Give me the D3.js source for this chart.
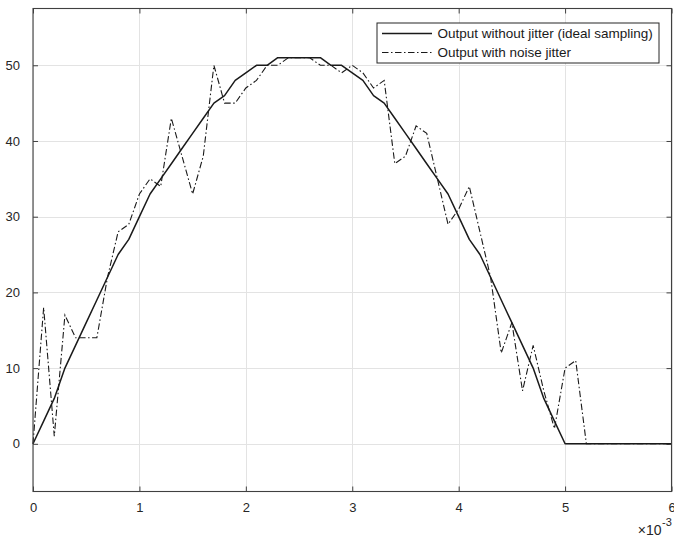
<!DOCTYPE html>
<html>
<head>
<meta charset="utf-8">
<script src="https://cdn.jsdelivr.net/npm/d3@7"></script>
<style>
  html, body { margin: 0; padding: 0; background: #fff; }
  svg { display: block; font-family: "Liberation Sans", Arial, Helvetica, sans-serif; }
</style>
</head>
<body>
<svg id="chart" width="674" height="537"></svg>
<script>
// time samples in units of 1e-3 s
const timeMs = [0,0.1,0.2,0.3,0.4,0.5,0.6,0.7,0.8,0.9,1.0,1.1,1.2,1.3,1.4,1.5,1.6,1.7,1.8,1.9,2.0,
  2.1,2.2,2.3,2.4,2.5,2.6,2.7,2.8,2.9,3.0,3.1,3.2,3.3,3.4,3.5,3.6,3.7,3.8,3.9,4.0,
  4.1,4.2,4.3,4.4,4.5,4.6,4.7,4.8,4.9,5.0,5.1,5.2,5.3,5.4,5.5,5.6,5.7,5.8,5.9,6.0];
const idealOutput = [0,3,6,10,13,16,19,22,25,27,30,33,35,37,39,41,43,45,46,48,49,
  50,50,51,51,51,51,51,50,50,49,48,46,45,43,41,39,37,35,33,30,
  27,25,22,19,16,13,10,6,3,0,0,0,0,0,0,0,0,0,0,0];
const jitterOutput = [0,18,1,17,14,14,14,22,28,29,33,35,34,43,38,33,38,50,45,45,47,
  48,50,50,51,51,51,50,50,49,50,49,47,48,37,38,42,41,35,29,31,
  34,28,22,12,16,7,13,7,2,10,11,0,0,0,0,0,0,0,0,0];
const xTicks = [0,1,2,3,4,5,6];
const yTicks = [0,10,20,30,40,50];
const legendLabels = ["Output without jitter (ideal sampling)", "Output with noise jitter"];

(function () {
const svg = d3.select("#chart");
const pLeft = 33, pRight = 671.5, pTop = 8.5, pBottom = 491.5;
const x = d3.scaleLinear().domain([0, 6]).range([pLeft, pRight]);
const y = d3.scaleLinear().domain([-6.3, 57.5]).range([pBottom, pTop]);

// grid
const grid = svg.append("g").attr("stroke", "#e3e3e3").attr("stroke-width", 1);
xTicks.forEach(t => grid.append("line")
  .attr("x1", Math.round(x(t)) + 0.5).attr("x2", Math.round(x(t)) + 0.5)
  .attr("y1", pTop).attr("y2", pBottom));
yTicks.forEach(t => grid.append("line")
  .attr("y1", Math.round(y(t)) + 0.5).attr("y2", Math.round(y(t)) + 0.5)
  .attr("x1", pLeft).attr("x2", pRight));

// axes (ticks inward, box on)
const axisColor = "#404040";
const xAxisB = d3.axisBottom(x).tickValues(xTicks).tickSizeInner(-5).tickSizeOuter(0).tickPadding(11).tickFormat(d3.format("d"));
const xAxisT = d3.axisTop(x).tickValues(xTicks).tickSizeInner(-5).tickSizeOuter(0).tickFormat("");
const yAxisL = d3.axisLeft(y).tickValues(yTicks).tickSizeInner(-5).tickSizeOuter(0).tickPadding(13).tickFormat(d3.format("d"));
const yAxisR = d3.axisRight(y).tickValues(yTicks).tickSizeInner(-5).tickSizeOuter(0).tickFormat("");

function styleAxis(g) {
  g.select(".domain").remove();
  g.selectAll(".tick line").attr("stroke", axisColor);
  g.selectAll(".tick text").attr("fill", "#262626").attr("font-size", "13px")
    .attr("font-family", "'Liberation Sans', Arial, sans-serif");
}
svg.append("g").attr("transform", `translate(0,${pBottom})`).call(xAxisB).call(styleAxis);
svg.append("g").attr("transform", `translate(0,${pTop})`).call(xAxisT).call(styleAxis);
svg.append("g").attr("transform", `translate(${pLeft},0)`).call(yAxisL).call(styleAxis);
svg.append("g").attr("transform", `translate(${pRight},0)`).call(yAxisR).call(styleAxis);

// data lines
const line = d3.line().x((d, i) => x(timeMs[i])).y(d => y(d));
svg.append("path").datum(idealOutput).attr("d", line)
  .attr("fill", "none").attr("stroke", "#1a1a1a").attr("stroke-width", 1.5).attr("stroke-linejoin", "round");
svg.append("path").datum(jitterOutput).attr("d", line)
  .attr("fill", "none").attr("stroke", "#1a1a1a").attr("stroke-width", 1.1)
  .attr("stroke-dasharray", "6.5,2.5,1.5,2.5");

// box
svg.append("rect").attr("x", pLeft).attr("y", pTop).attr("width", pRight - pLeft).attr("height", pBottom - pTop)
  .attr("fill", "none").attr("stroke", axisColor).attr("stroke-width", 1.1);

// exponent label
svg.append("text").attr("x", 661.5).attr("y", 535).attr("text-anchor", "end")
  .attr("font-size", "14px").attr("fill", "#262626").text("\u00d710");
svg.append("text").attr("x", 662).attr("y", 526).attr("font-size", "11px").attr("fill", "#262626").text("-3");

// legend
const lg = svg.append("g");
lg.append("rect").attr("x", 377).attr("y", 23).attr("width", 282).attr("height", 40)
  .attr("fill", "#fff").attr("stroke", "#262626").attr("stroke-width", 1);
legendLabels.forEach((lab, i) => {
  const cy = 33.5 + i * 19;
  lg.append("line").attr("x1", 382).attr("x2", 432).attr("y1", cy).attr("y2", cy)
    .attr("stroke", "#1a1a1a").attr("stroke-width", i === 0 ? 1.5 : 1.1)
    .attr("stroke-dasharray", i === 0 ? null : "6.5,2.5,1.5,2.5");
  lg.append("text").attr("x", 437.5).attr("y", cy + 4.7).attr("font-size", "13.5px")
    .attr("fill", "#1a1a1a").text(lab);
});
})();
</script>
</body>
</html>
